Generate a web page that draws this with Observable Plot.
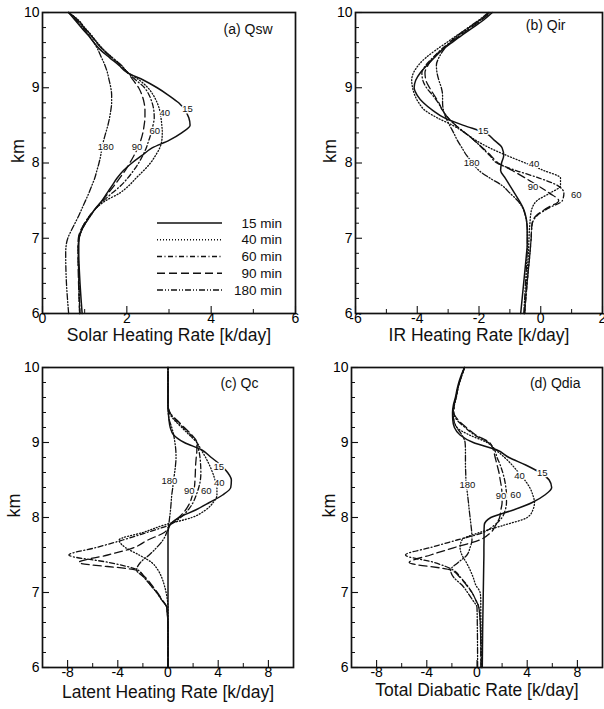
<!DOCTYPE html>
<html><head><meta charset="utf-8">
<script src="https://cdn.jsdelivr.net/npm/d3@7"></script>
<script src="https://cdn.jsdelivr.net/npm/@observablehq/plot@0.6"></script>
<style>
html,body{margin:0;padding:0;background:#fff}
body{width:604px;height:709px;overflow:hidden;position:relative;font-family:"Liberation Sans",Arial,Helvetica,sans-serif}
.panel{position:absolute}
</style></head><body>
<div id="pa" class="panel" style="left:0;top:0;width:302px;height:345px"></div>
<div id="pb" class="panel" style="left:302px;top:0;width:302px;height:345px"></div>
<div id="pc" class="panel" style="left:0;top:345px;width:302px;height:364px"></div>
<div id="pd" class="panel" style="left:302px;top:345px;width:302px;height:364px"></div>
<script>
// ---------- data ----------
const heights = [10.0, 9.9, 9.8, 9.7, 9.6, 9.5, 9.4, 9.3, 9.2, 9.1, 9.0, 8.9, 8.8, 8.7, 8.6, 8.5, 8.4, 8.3, 8.2, 8.1, 8.0, 7.9, 7.8, 7.7, 7.6, 7.5, 7.4, 7.3, 7.2, 7.1, 7.0, 6.9, 6.8, 6.5, 6.0];
const series = ["15", "40", "60", "90", "180"];
const legendNames = ["15 min", "40 min", "60 min", "90 min", "180 min"];

// (a) Solar heating rate
const sw15 = [0.62,0.77,0.92,1.08,1.22, 1.38,1.59,1.81,2.01,2.40, 2.72,2.99,3.23,3.38,3.47, 3.50,3.30,3.00,2.60,2.36, 2.12,1.92,1.77,1.65,1.53, 1.41,1.26,1.14,1.02,0.92, 0.87,0.86,0.86,0.88,0.94];
const sw40 = [0.62,0.85,1.00,1.16,1.30, 1.46,1.66,1.87,2.03,2.30, 2.50,2.63,2.72,2.78,2.81, 2.83,2.84,2.83,2.78,2.68, 2.56,2.40,2.22,2.05,1.83, 1.50,1.27,1.14,1.02,0.93, 0.87,0.85,0.85,0.86,0.88];
const sw60 = [0.62,0.84,0.99,1.15,1.29, 1.45,1.65,1.86,2.02,2.22, 2.42,2.53,2.60,2.64,2.65, 2.62,2.58,2.52,2.46,2.38, 2.28,2.16,2.02,1.86,1.65, 1.45,1.27,1.12,1.00,0.91, 0.86,0.85,0.85,0.86,0.89];
const sw90 = [0.62,0.83,0.98,1.14,1.28, 1.44,1.64,1.85,2.02,2.15, 2.28,2.36,2.41,2.43,2.43, 2.41,2.38,2.33,2.26,2.17, 2.07,1.96,1.83,1.70,1.56, 1.42,1.27,1.12,1.00,0.90, 0.85,0.84,0.84,0.85,0.88];
const sw180 = [0.62,0.80,0.95,1.10,1.22, 1.32,1.40,1.48,1.54,1.58, 1.62,1.64,1.64,1.62,1.59, 1.55,1.50,1.45,1.41,1.38, 1.34,1.29,1.24,1.17,1.10, 1.02,0.94,0.86,0.77,0.68, 0.60,0.56,0.55,0.56,0.62];

// (b) IR heating rate
const ir15 = [-1.57,-1.85,-2.20,-2.55,-2.88, -3.20,-3.45,-3.68,-3.90,-4.05, -4.10,-4.00,-3.80,-3.50,-3.12, -2.50,-1.80,-1.50,-1.25,-1.20, -1.27,-1.30,-1.15,-1.00,-0.85, -0.70,-0.57,-0.49,-0.45,-0.44, -0.44,-0.44,-0.46,-0.53,-0.65];
const ir40 = [-1.65,-1.95,-2.32,-2.70,-3.05, -3.40,-3.72,-3.96,-4.12,-4.18, -4.15,-4.08,-3.95,-3.75,-3.35, -2.85,-2.45,-2.10,-1.65,-1.10, -0.50,0.10,0.64,0.64,0.30, -0.12,-0.28,-0.33,-0.35,-0.37, -0.38,-0.39,-0.40,-0.45,-0.52];
const ir60 = [-1.68,-1.98,-2.32,-2.65,-2.95, -3.25,-3.50,-3.72,-3.85,-3.82, -3.70,-3.50,-3.32,-3.18,-3.00, -2.75,-2.45,-2.15,-1.90,-1.65, -1.42,-0.80,-0.05,0.55,0.75, 0.70,0.25,-0.12,-0.27,-0.30, -0.31,-0.33,-0.35,-0.42,-0.52];
const ir90 = [-1.62,-1.92,-2.26,-2.60,-2.92, -3.22,-3.48,-3.65,-3.75,-3.72, -3.60,-3.45,-3.30,-3.18,-3.00, -2.75,-2.45,-2.15,-1.88,-1.62, -1.38,-0.92,-0.50,-0.10,0.28, 0.58,0.20,-0.15,-0.28,-0.30, -0.31,-0.33,-0.35,-0.42,-0.53];
const ir180 = [-1.70,-2.00,-2.35,-2.68,-2.95, -3.15,-3.30,-3.38,-3.36,-3.30, -3.22,-3.18,-3.18,-3.15,-3.07, -2.95,-2.82,-2.70,-2.55,-2.40, -2.20,-2.00,-1.65,-1.25,-1.00, -0.75,-0.58,-0.50,-0.45,-0.43, -0.43,-0.43,-0.44,-0.48,-0.55];

// (c) Latent heating rate
const lh15 = [0,0,0,0,0, 0,0.03,0.08,0.18,0.45, 1.30,2.70,3.45,4.20,4.75, 5.05,5.00,4.35,3.30,2.20, 0.90,0.15,0,0,0, 0,0,0,0,0, 0,0,0,0,0];
const lh40 = [0,0,0,0,0, 0,0.10,0.50,1.10,1.70, 2.30,2.65,3.00,3.30,3.55, 3.75,3.90,3.90,3.60,3.00, 1.90,-0.30,-2.00,-3.90,-3.40, -2.30,-1.30,-0.80,-0.50,-0.30, -0.15,-0.05,0,0,0];
const lh60 = [0,0,0,0,0, 0,0.15,0.60,1.20,1.80, 2.30,2.45,2.55,2.60,2.62, 2.58,2.45,2.25,2.00,1.60, 1.00,0.10,-1.70,-3.60,-5.70, -7.90,-4.70,-2.40,-1.90,-1.40, -0.90,-0.50,-0.10,0,0];
const lh90 = [0,0,0,0,0, 0,0.15,0.70,1.30,1.90, 2.30,2.30,2.25,2.20,2.18, 2.15,2.10,1.95,1.75,1.40, 0.85,0.15,-0.30,-1.60,-2.70, -4.80,-7.10,-2.60,-1.80,-1.30, -0.85,-0.45,-0.10,0,0];
const lh180 = [0,0,0,0,0, 0,0.02,0.10,0.30,0.45, 0.55,0.62,0.64,0.60,0.53, 0.45,0.38,0.30,0.25,0.20, 0.13,0.05,-0.10,-0.40,-0.90, -1.50,-2.20,-2.50,-1.90,-1.40, -0.90,-0.50,-0.10,0,0];

// (d) Total diabatic rate
const td15 = [-1.00,-1.25,-1.45,-1.60,-1.72, -1.88,-1.95,-1.93,-1.80,-1.35, -0.30,1.60,2.55,3.88,5.00, 5.75,5.95,5.40,4.40,2.90, 1.10,0.58,0.56,0.56,0.55, 0.55,0.54,0.53,0.52,0.51, 0.50,0.49,0.48,0.45,0.42];
const td40 = [-1.00,-1.20,-1.40,-1.55,-1.65, -1.80,-1.90,-1.85,-1.60,-0.60, 0.80,1.50,2.20,2.80,3.30, 3.80,4.20,4.45,4.58,4.45, 4.00,2.20,0.20,-1.20,-1.35, -1.20,-0.85,-0.55,-0.30,-0.10, 0.25,0.30,0.30,0.32,0.35];
const td60 = [-1.00,-1.20,-1.40,-1.55,-1.68, -1.82,-1.85,-1.60,-0.95,-0.20, 0.90,1.40,1.60,1.85,2.05, 2.20,2.30,2.35,2.35,2.25, 2.00,1.40,0.50,-1.60,-3.70, -5.70,-3.40,-1.90,-1.30,-0.80, -0.40,-0.10,0.15,0.28,0.32];
const td90 = [-1.00,-1.20,-1.40,-1.55,-1.68, -1.82,-1.85,-1.50,-0.85,-0.10, 1.00,1.30,1.45,1.60,1.75, 1.85,1.95,2.00,2.00,1.90, 1.80,1.50,1.10,0.20,-1.80, -3.70,-5.40,-2.10,-1.35,-0.85, -0.40,-0.10,0.15,0.28,0.32];
const td180 = [-1.00,-1.20,-1.40,-1.55,-1.68, -1.82,-1.90,-1.85,-1.60,-1.20, -0.95,-0.92,-0.92,-0.92,-0.90, -0.88,-0.82,-0.75,-0.68,-0.62, -0.55,-0.48,-0.42,-0.40,-0.55, -0.80,-1.50,-2.10,-1.85,-1.20, -0.75,-0.35,0.00,0.03,0.05];

// curve labels (value, height) per panel
const labA = {x: [3.44, 2.90, 2.66, 2.24, 1.50], y: [8.72, 8.66, 8.42, 8.21, 8.21]};
const labB = {x: [-1.86, -0.22, 1.15, -0.25, -2.24], y: [8.43, 7.99, 7.57, 7.68, 8.00]};
const labC = {x: [4.05, 4.08, 3.05, 1.70, 0.11], y: [8.67, 8.46, 8.36, 8.35, 8.49]};
const labD = {x: [5.20, 3.38, 3.08, 1.92, -0.77], y: [8.60, 8.56, 8.30, 8.29, 8.43]};

// ticks
const yMajor = [6, 7, 8, 9, 10];
const yMinor = [6.2,6.4,6.6,6.8,7.2,7.4,7.6,7.8,8.2,8.4,8.6,8.8,9.2,9.4,9.6,9.8];
const xMajorA = [0, 2, 4, 6], xMinorA = [1, 3, 5];
const xMajorB = [-6, -4, -2, 0, 2], xMinorB = [-5, -3, -1, 1];
const xMajorC = [-8, -4, 0, 4, 8], xMinorC = [-6, -2, 2, 6];

// ---------- drawing ----------
const DASH = [null, "1,2", "5,2.5,1,2.5", "8,4", "6,2,1,2,1,2"];
const FONT = "'Liberation Sans', Arial, Helvetica, sans-serif";

function drawPanel(id, cfg) {
  const {width, height, margin: [mt, mr, mb, ml], xDomain, xMajor, xMinor, values, lab,
         tag, tagDx, tagDy, title, titleDy, kmDx, legend} = cfg;
  const yDomain = [6, 10];
  const iw = width - ml - mr, ih = height - mt - mb;
  const kx = (xDomain[1] - xDomain[0]) / iw, ky = (yDomain[1] - yDomain[0]) / ih;
  const marks = [];
  // inward ticks
  marks.push(Plot.ruleX(xMajor, {x: d => d, y1: yDomain[0], y2: yDomain[0] + 7 * ky, stroke: "#111", strokeWidth: 1.1}));
  marks.push(Plot.ruleX(xMinor, {x: d => d, y1: yDomain[0], y2: yDomain[0] + 4 * ky, stroke: "#111", strokeWidth: 1}));
  marks.push(Plot.ruleY(yMajor, {y: d => d, x1: xDomain[0], x2: xDomain[0] + 7 * kx, stroke: "#111", strokeWidth: 1.1}));
  marks.push(Plot.ruleY(yMinor, {y: d => d, x1: xDomain[0], x2: xDomain[0] + 4 * kx, stroke: "#111", strokeWidth: 1}));
  // curves
  series.forEach((s, i) => {
    const rows = heights.map((h, j) => ({h, v: values[i][j]})).sort((a, b) => a.h - b.h);
    const opts = {x: "v", y: "h", stroke: "#111", strokeWidth: i === 0 ? 1.5 : 1.3, curve: "monotone-y"};
    if (DASH[i]) opts.strokeDasharray = DASH[i];
    marks.push(Plot.line(rows, opts));
  });
  // curve labels
  marks.push(Plot.text(series, {x: lab.x, y: lab.y, text: d => d, fontSize: 9.5, fill: "#111", stroke: "white", strokeWidth: 3}));
  marks.push(Plot.frame({stroke: "#111", strokeWidth: 1.7}));
  // axes
  marks.push(Plot.axisX({ticks: xMajor, tickSize: 0, tickPadding: 0, tickFormat: d => String(d), fontSize: 14, label: null}));
  marks.push(Plot.axisY({ticks: yMajor, tickSize: 0, tickPadding: 3, tickFormat: d => String(d), fontSize: 14, label: null}));
  marks.push(Plot.text([title], {frameAnchor: "bottom", dy: titleDy, fontSize: 17.5, lineAnchor: "middle", fill: "#111"}));
  marks.push(Plot.text(["km"], {frameAnchor: "left", dx: kmDx, rotate: -90, fontSize: 18, lineAnchor: "middle", fill: "#111"}));
  marks.push(Plot.text([tag], {frameAnchor: "top-right", dx: tagDx, dy: tagDy, textAnchor: "end", lineAnchor: "middle", fontSize: 14, fill: "#111"}));
  if (legend) {
    marks.push((index, scales, vals, dims) => {
      const g = d3.create("svg:g");
      const right = dims.width - dims.marginRight, bottom = dims.height - dims.marginBottom;
      legendNames.forEach((name, i) => {
        const y = bottom - 23 - (4 - i) * 16.75;
        g.append("line")
          .attr("x1", right - 138).attr("x2", right - 73).attr("y1", y).attr("y2", y)
          .attr("stroke", "#111").attr("stroke-width", i === 0 ? 1.5 : 1.3)
          .attr("stroke-dasharray", DASH[i]);
        g.append("text")
          .attr("x", right - 13).attr("y", y).attr("dy", "0.35em")
          .attr("text-anchor", "end").attr("font-size", 13.5).attr("fill", "#111")
          .text(name);
      });
      return g.node();
    });
  }
  const chart = Plot.plot({
    width, height,
    marginTop: mt, marginRight: mr, marginBottom: mb, marginLeft: ml,
    x: {domain: xDomain},
    y: {domain: yDomain},
    style: {fontFamily: FONT, fontSize: "14px", background: "transparent", overflow: "visible"},
    marks
  });
  document.getElementById(id).appendChild(chart);
}

drawPanel("pa", {width: 302, height: 345, margin: [12, 7, 32, 42], xDomain: [0, 6],
  xMajor: xMajorA, xMinor: xMinorA, values: [sw15, sw40, sw60, sw90, sw180], lab: labA,
  tag: "(a) Qsw", tagDx: -23, tagDy: 17, title: "Solar Heating Rate [k/day]", titleDy: 22, kmDx: -24, legend: true});
drawPanel("pb", {width: 302, height: 345, margin: [12, 2, 32, 53], xDomain: [-6, 2],
  xMajor: xMajorB, xMinor: xMinorB, values: [ir15, ir40, ir60, ir90, ir180], lab: labB,
  tag: "(b) Qir", tagDx: -37, tagDy: 13, title: "IR Heating Rate [k/day]", titleDy: 22, kmDx: -25, legend: false});
drawPanel("pc", {width: 302, height: 364, margin: [22, 9, 42, 42], xDomain: [-10, 10],
  xMajor: xMajorC, xMinor: xMinorC, values: [lh15, lh40, lh60, lh90, lh180], lab: labC,
  tag: "(c) Qc", tagDx: -35, tagDy: 16, title: "Latent Heating Rate [k/day]", titleDy: 25, kmDx: -28, legend: false});
drawPanel("pd", {width: 302, height: 364, margin: [22, 2, 42, 49], xDomain: [-10, 10],
  xMajor: xMajorC, xMinor: xMinorC, values: [td15, td40, td60, td90, td180], lab: labD,
  tag: "(d) Qdia", tagDx: -22, tagDy: 16, title: "Total Diabatic Rate [k/day]", titleDy: 23, kmDx: -22, legend: false});
</script>
</body></html>
